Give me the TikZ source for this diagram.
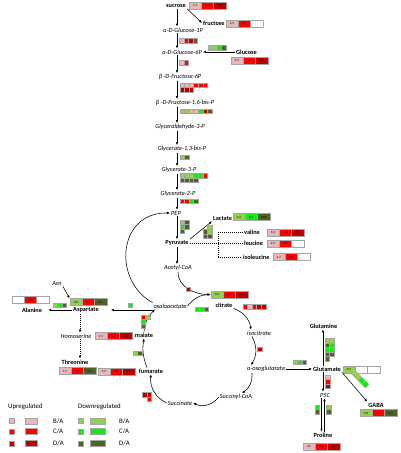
\documentclass[tikz,border=0pt]{standalone}
\usepackage{fontspec}
\setmainfont{Carlito}
\usetikzlibrary{arrows.meta}
\definecolor{u1}{RGB}{230,184,183}
\definecolor{u2}{RGB}{255,0,0}
\definecolor{u3}{RGB}{192,0,0}
\definecolor{d1}{RGB}{146,208,80}
\definecolor{d2}{RGB}{20,235,20}
\definecolor{d3}{RGB}{79,98,40}
\definecolor{rim}{RGB}{165,165,165}

\newcommand\vals[4]{%
    \foreach \cc/\vv [count=\i] in {#4}
        \node[vcell,fill=\cc] (#1-\i) at ({#2+12.3*(\i-1)},#3) {\vv};%
}
\newcommand\sqs[4]{%
    \foreach \cc [count=\i] in {#4}
        \node[sq,fill=\cc] (#1-\i) at ({#2+4.6*(\i-1)},#3) {};%
}

\begin{document}
\begin{tikzpicture}[
    x=1pt, y=-1pt,
    every node/.style={inner sep=1pt},
    bld/.style={font=\fontsize{6.3}{7}\selectfont\bfseries},
    itl/.style={font=\fontsize{6.3}{7}\selectfont\itshape},
    leg/.style={font=\fontsize{6.8}{7}\selectfont},
    vcell/.style={
        draw=rim, line width=0.5pt, minimum width=12.3pt, minimum height=6.8pt,
        inner sep=0pt, font=\fontsize{3.2}{3.5}\selectfont
    },
    sq/.style={draw=rim, line width=0.3pt, minimum size=4.6pt, inner sep=0pt},
    arr/.style={line width=0.55pt, -{Latex[length=3pt,width=2.5pt]}},
    darr/.style={arr, dash pattern=on 1pt off 1pt},
    dsh/.style={line width=0.55pt, dash pattern=on 1.2pt off 0.8pt}
]
    \useasboundingbox (0,0) rectangle (400,453);
    \fill[white] (0,0) rectangle (400,453);
    \coordinate (ax) at (177,0);
    \coordinate (gx) at (323,0);
    \coordinate (gxa) at (321.5,0);
    \coordinate (gxb) at (324.5,0);
    \coordinate (hx) at (80,0);
    \coordinate (br) at (218,0);

    % glycolysis
    \node[bld] (suc) at (176,6) {sucrose};
    \node[bld,anchor=west] (fru) at (202,23) {fructose};
    \node[itl] (g1p) at (183,30) {α-D-Glucose-1P};
    \node[bld,anchor=west] (glc) at (235,52) {Glucose};
    \node[itl] (g6p) at (182,52) {α-D-Glucose-6P};
    \node[itl] (f6p) at (180,77) {β -D-Fructose-6P};
    \node[itl] (fbp) at (185,103) {β -D-Fructose-1,6-bis-P};
    \node[itl] (gap) at (180,127) {Glyceraldehyde-3-P};
    \node[itl] (bpg) at (182,149) {Glycerate-1,3-bis-P};
    \node[itl] (pga) at (179,170) {Glycerate-3-P};
    \node[itl] (pgb) at (178,194) {Glycerate-2-P};
    \node[itl] (pep) at (176,213) {PEP};
    \node[bld] (pyr) at (177,243) {Pyruvate};
    \node[itl] (acc) at (178,268) {Acetyl-CoA};
    \node[bld,anchor=west] (lac) at (212,218) {Lactate};
    \node[bld,anchor=west] (val) at (243,232) {valine};
    \node[bld,anchor=west] (leu) at (243,243) {leucine};
    \node[bld,anchor=west] (ile) at (242,257) {isoleucine};

    \foreach \a/\b in {suc/g1p,g1p/g6p,g6p/f6p,f6p/fbp,fbp/gap,gap/bpg,bpg/pga,pga/pgb,pgb/pep,pep/pyr,pyr/acc}
        \draw[arr] (\a.south -| ax) -- (\b.north -| ax);
    \draw[arr] (suc.south east) -- (fru.west);
    \draw[arr] (glc.west) -- (g6p.east);
    \draw[arr] (pyr.north east) -- (lac.south west);
    \draw[dsh] (pyr.east) -- (pyr.east -| br);
    \draw[dsh] (val.west -| br) -- (ile.west -| br);
    \foreach \n in {val,leu,ile}
        \draw[dsh] (\n.west -| br) -- (\n.west);

    % TCA cycle
    \node[bld] (cit) at (224,305) {citrate};
    \node[itl] (ici) at (259,333) {isocitrate};
    \node[itl] (akg) at (266,369) {α-oxoglutarate};
    \node[itl] (sca) at (236,397) {Succinyl-CoA};
    \node[itl] (sin) at (180,403) {Succinate};
    \node[bld] (fum) at (151,371) {fumarate};
    \node[bld] (mal) at (144,335) {malate};
    \node[itl] (oaa) at (170,306) {oxaloacetate};

    % amino acids
    \node[bld] (asp) at (86,310) {Aspartate};
    \node[bld] (ala) at (32,310) {Alanine};
    \node[itl] (asn) at (57,283) {Asn};
    \node[itl] (hom) at (76,336) {Homoserine};
    \node[bld] (thr) at (75,362) {Threonine};
    \node[bld] (gln) at (323.5,326) {Glutamine};
    \node[bld,anchor=west] (glu) at (312,369) {Glutamate};
    \node[itl] (p5c) at (325,395) {P5C};
    \node[bld] (pro) at (323,435) {Proline};
    \node[bld] (gab) at (376,405) {GABA};

    \vals{sucv}{195.2}{5.5}{u1/2.1,u2/4.0,u3/6.0}
    \vals{fruv}{232}{23.5}{u1/2.9,u2/2.0,white/{}}
    \vals{glcv}{237}{60.5}{u1/2.7,u2/3.3,u3/3.8}
    \vals{lacv}{239}{217}{d1/0.4,d2/0.1,d3/0.05}
    \vals{valv}{273}{232.5}{u1/5.6,u2/14.2,u3/5.8}
    \vals{leuv}{273}{243.5}{u1/2.5,u2/3.2,white/{}}
    \vals{ilev}{279}{257}{u1/4.7,u2/9.3,white/{}}
    \vals{citv}{217}{294.5}{d1/0.6,u2/1.7,u3/1.4}
    \vals{aspv}{76}{302}{d1/0.8,u2/2.3,d3/0.1}
    \vals{alav}{18}{300}{white/{},u2/1.9,white/{}}
    \vals{homv}{101}{336}{u1/2.1,u2/4.6,u3/3.8}
    \vals{thrv}{65}{371}{u1/1.7,u2/1.8,d3/0.6}
    \vals{fumv}{104}{371.5}{u1/5.5,u2/1.8,u3/2.2}
    \vals{gluv}{349}{369.5}{d1/0.5,white/{},white/{}}
    \vals{gabv}{366}{413}{d1/0.8,u2/1.6,d3/0.5}
    \vals{prov}{309}{446.5}{u1/22,u2/40,u3/32}

    \draw[arr] (acc.south) to[out=-90,in=180] (citv-1.west);
    \draw[arr] (oaa.east) to[bend left=25] (citv-1.west);
    \draw[arr] (cit.south east) to[bend left=30] ([xshift=-8]ici.north);
    \draw[arr] ([xshift=-7]ici.south) to[bend left=30] ([xshift=-15]akg.north);
    \draw[arr] ([xshift=-14]akg.south) to[bend left=30] ([xshift=6]sca.north);
    \draw[arr] (sca.west) to[bend left=40] (sin.east);
    \draw[arr] (sin.west) to[bend left=35] (fum.south);
    \draw[arr] ([xshift=-4]fum.north) to[bend left=15] (mal.south);
    \draw[arr] (mal.north) to[bend left=20] ([xshift=-15]oaa.south);
    \draw[arr] (oaa.north west) .. controls (112,280) and (118,212) .. (pep.west);

    \draw[arr] (oaa.west |- asp) -- ([xshift=11]asp.east);
    \draw[arr] (asp.west) -- ([xshift=5]ala.east);
    \draw[arr] (asn.south east) -- (aspv-1.north west);
    \draw[darr] (asp.south -| hx) -- (hom.north -| hx);
    \draw[darr] (hom.south -| hx) -- (thr.north -| hx);

    \draw[arr] (akg.east) -- (glu.west);
    \draw[arr] (glu.north -| gx) -- (gln.south -| gx);
    \draw[arr] (glu.south -| gx) -- (p5c.north -| gx);
    \draw[arr] (p5c.south -| gxa) -- (pro.north -| gxa);
    \draw[arr] (pro.north -| gxb) -- (p5c.south -| gxb);
    \draw[arr] (glu.south east) -- (gab.north west);

    % fold changes of the enzymes
    \sqs{gas}{181.5}{40.5}{u1,u2,u3,d3}
    \sqs{gbs}{210}{47.5}{d1,d1,d2,d3}
    \sqs{gcs}{181.5}{62.5}{u1,u2}
    \sqs{fas}{182}{85}{u1,u1,u1,u2,u2,u2}
    \sqs{fat}{182}{89.6}{u3,u3,u3}
    \sqs{fbs}{182}{111}{d1,d1,u1,u1,d2,u3,d3}
    \sqs{bps}{182}{157}{d1,d3}
    \sqs{pas}{182}{175.5}{d1,d1,d1,d2,d2,u2}
    \sqs{pat}{182}{180.1}{d3,d3,d3,d3}
    \sqs{pbs}{182}{201}{u2,u2,d2,d3}
    \sqs{pes}{182}{222}{d1,d3}
    \sqs{pet}{182}{226.6}{d2,d3}
    \sqs{peu}{182}{231.2}{d3}
    \sqs{las}{209.6}{227}{d1}
    \sqs{lat}{205}{231.6}{d3,d1}
    \sqs{lau}{205}{236.2}{d3,d3}
    \sqs{cis}{245}{306.5}{u2,u1,u2,u3,u3}
    \sqs{oas}{188}{289}{u3}
    \sqs{oat}{197}{309}{d2,d2,d3}
    \sqs{oau}{130}{305}{d2}
    \sqs{ics}{259.5}{349}{u3}
    \sqs{aks}{295}{362}{d1,d2,d3}
    \sqs{sis}{144.5}{394.5}{u3,u3}
    \sqs{sit}{149.1}{399.1}{u2}
    \sqs{fms}{135}{353}{d1,d3}
    \sqs{mas}{143}{317}{u2,d1}
    \sqs{mat}{143}{321.6}{d2}
    \sqs{mau}{143}{326.2}{d3}
    \sqs{aps}{55}{305}{d1,d2,d3}
    \sqs{gns}{327}{340.5}{d1,d1}
    \sqs{gnt}{327}{345.1}{d3,d2}
    \sqs{gnu}{327}{349.7}{d2,d2}
    \sqs{gnv}{327}{354.3}{d3,d3}
    \sqs{gnw}{327}{358.9}{d3}
    \sqs{p5s}{327.5}{377}{u1}
    \sqs{p5t}{327.5}{381.6}{u2}
    \sqs{p5u}{327.5}{386.2}{u3}
    \sqs{prs}{317}{407}{d2}
    \sqs{prt}{317}{411.6}{d3}
    \sqs{pru}{328.5}{407}{d1}
    \sqs{prv}{328.5}{411.6}{d3}
    \foreach \cc [count=\i] in {d1,d1,d2,d2}
        \node[sq,fill=\cc,rotate=45,minimum size=5pt] (gbd-\i) at ({351+3.6*\i},{370+3.6*\i}) {};

    % legend
    \node[leg,anchor=west] (lup) at (7,407) {Upregulated};
    \node[leg,anchor=west] (ldn) at (77,407) {Downregulated};
    \foreach \rt/\y [count=\i] in {B/421,C/431.5,D/443.5} {
        \node[sq,fill=u\i,minimum size=5pt] (lus\i) at (12,\y) {};
        \node[sq,fill=u\i,minimum width=12pt,minimum height=6pt] (lub\i) at (31,\y) {};
        \node[leg,anchor=west] (lut\i) at (52,\y) {\rt/A};
        \node[sq,fill=d\i,minimum size=5pt] (lds\i) at (80.5,\y) {};
        \node[sq,fill=d\i,minimum width=15pt,minimum height=6pt] (ldb\i) at (97.5,\y) {};
        \node[leg,anchor=west] (ldt\i) at (118,\y) {\rt/A};
    }
\end{tikzpicture}
\end{document}
